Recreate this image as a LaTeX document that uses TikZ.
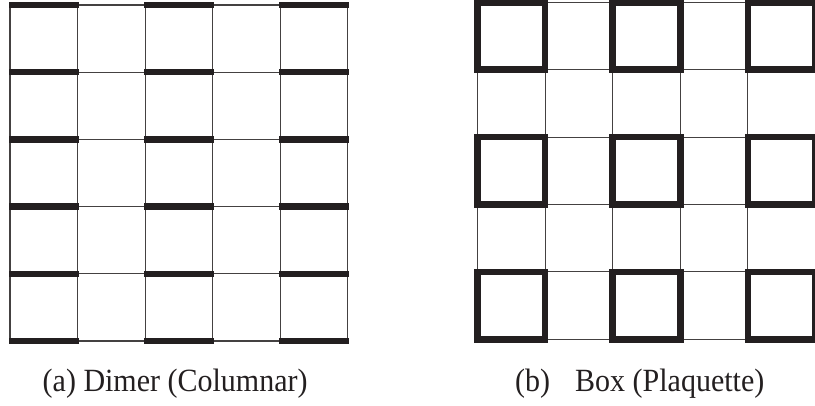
\documentclass[tikz,border=0pt]{standalone}
\usepackage{fontspec}
\usepackage{graphicx}
\setmainfont{Liberation Serif}
\definecolor{ink}{HTML}{231F20}
\begin{document}
\begin{tikzpicture}[x=1pt,y=-1pt,
  thin grid/.style={draw=ink!85, line width=1.1pt},
  bond/.style={draw=ink, line width=6.4pt, line cap=butt},
  plaq/.style={draw=ink, line width=6.6pt, line join=miter},
  caption/.style={font=\fontsize{30}{32}\selectfont, text=ink, anchor=base west, inner sep=0pt}]
\useasboundingbox (0,0) rectangle (815,405);
% ---- left grid (dimer, columnar)
\def\lx{10}\def\ly{5}\def\lw{67.55}\def\lh{67.2}
\foreach \i in {0,...,5}{
  \draw[thin grid] (\lx+\i*\lw,\ly) -- (\lx+\i*\lw,\ly+5*\lh);
  \draw[thin grid] (\lx,\ly+\i*\lh) -- (\lx+5*\lw,\ly+\i*\lh);
}
\foreach \r in {0,...,5}{
  \foreach \c in {0,2,4}{
    \draw[bond] (\lx+\c*\lw-1,\ly+\r*\lh) -- (\lx+\c*\lw+\lw+1,\ly+\r*\lh);
  }
}
% ---- right grid (box, plaquette)
\def\rx{477.5}\def\ry{2.3}\def\rw{67.6}\def\rh{67.4}
\foreach \i in {0,...,5}{
  \draw[thin grid] (\rx+\i*\rw,\ry) -- (\rx+\i*\rw,\ry+5*\rh);
  \draw[thin grid] (\rx,\ry+\i*\rh) -- (\rx+5*\rw,\ry+\i*\rh);
}
\foreach \r in {0,2,4}{
  \foreach \c in {0,2,4}{
    \draw[plaq] (\rx+\c*\rw,\ry+\r*\rh) rectangle (\rx+\c*\rw+\rw,\ry+\r*\rh+\rh);
  }
}
% ---- captions
\node[caption] (capa) at (42.5,391.7) {\scalebox{1}[1.08]{(a) Dimer (Columnar)}};
\node[caption] (capb) at (515,391.7) {\scalebox{1}[1.08]{(b)\hspace{25pt}Box (Plaquette)}};
\end{tikzpicture}
\end{document}
